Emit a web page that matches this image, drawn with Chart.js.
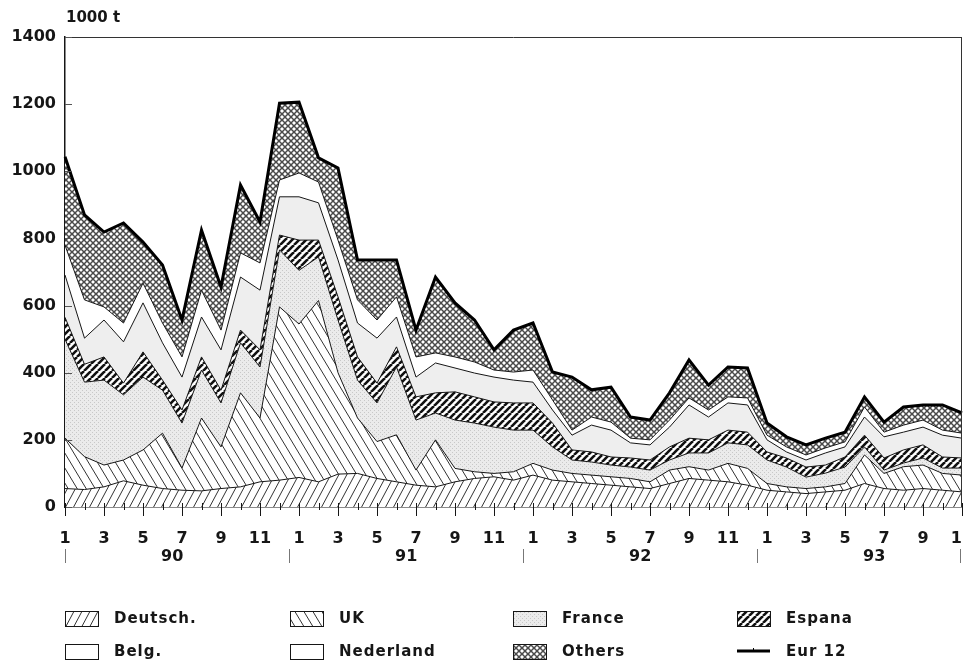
<!DOCTYPE html>
<html>
<head>
<meta charset="utf-8">
<script src="https://cdn.jsdelivr.net/npm/chart.js@4/dist/chart.umd.min.js"></script>
<style>
  html, body { margin: 0; padding: 0; background: #fff; }
  canvas { display: block; }
</style>
</head>
<body>
<canvas id="chart" width="963" height="669"></canvas>
<script>
// months Jan 1990 .. Nov 1993
const monthLabels = ['1','2','3','4','5','6','7','8','9','10','11','12',
                     '1','2','3','4','5','6','7','8','9','10','11','12',
                     '1','2','3','4','5','6','7','8','9','10','11','12',
                     '1','2','3','4','5','6','7','8','9','10','11'];
const yearLabels = ['90', '91', '92', '93'];
const yTicks = [0, 200, 400, 600, 800, 1000, 1200, 1400];

// 1000 t per month
const deutsch   = [55,52,60,78,65,55,50,48,55,60,75,80,88,75,98,100,85,75,65,60,75,85,90,80,95,80,75,70,65,60,55,70,85,80,75,65,50,45,40,45,50,70,55,50,55,50,45];
const uk        = [150,98,65,62,105,165,66,217,124,280,190,516,457,540,302,165,110,140,45,140,40,20,10,25,35,30,25,25,25,25,20,40,35,30,55,50,20,15,15,15,20,85,45,70,70,50,50];
const france    = [295,222,253,194,217,128,134,143,131,149,152,170,160,130,157,113,115,202,149,80,144,145,138,124,99,69,40,39,35,34,35,30,41,51,61,70,70,59,34,41,49,24,10,11,21,16,21];
const espana    = [65,53,69,35,75,30,39,39,38,38,51,44,90,50,69,69,59,60,69,60,84,78,75,81,81,71,30,30,24,27,30,39,44,39,38,38,24,27,30,24,30,35,36,39,39,33,30];
const belg      = [126,78,110,123,146,111,98,119,120,158,178,114,129,111,110,101,134,89,59,89,71,71,74,68,62,39,44,80,80,45,45,59,99,68,81,81,36,18,21,36,30,54,63,53,53,65,59];
const nederland = [89,114,39,56,59,59,60,80,59,72,81,50,71,62,59,69,54,60,60,30,33,33,21,24,36,30,15,24,24,14,15,21,21,21,18,21,14,15,15,15,15,30,14,21,21,15,15];
const others    = [263,253,223,298,122,173,110,179,128,202,122,229,211,72,215,119,179,110,80,226,161,125,60,125,140,83,158,81,104,63,59,81,113,74,89,89,36,30,30,29,29,30,30,54,45,75,60];
const eur12     = [1043,870,819,846,789,721,557,825,655,959,849,1203,1206,1040,1010,736,736,736,527,685,608,557,468,527,548,402,387,349,357,268,259,340,438,363,417,414,250,209,185,205,223,328,253,298,304,304,280];

const canvas = document.getElementById('chart');
const mainCtx = canvas.getContext('2d');
const FONT = 'DejaVu Sans';
const INK = '#161616';

// small tiles used as fill patterns
function makePattern(w, h, bg, draw) {
    const c = document.createElement('canvas');
    c.width = w; c.height = h;
    const g = c.getContext('2d');
    g.fillStyle = bg;
    g.fillRect(0, 0, w, h);
    if (draw) draw(g, w, h);
    return mainCtx.createPattern(c, 'repeat');
}
function hatch(g, w, h, lw, color, dir) {
    g.strokeStyle = color;
    g.lineWidth = lw;
    for (const dx of [-w, 0, w]) {
        g.beginPath();
        if (dir > 0) { g.moveTo(dx, h); g.lineTo(dx + w, 0); }
        else { g.moveTo(dx, 0); g.lineTo(dx + w, h); }
        g.stroke();
    }
}

const patDeutsch = makePattern(8, 15, '#ffffff', (g, w, h) => hatch(g, w, h, 1, '#333', 1));
const patUK = makePattern(9, 15, '#ffffff', (g, w, h) => hatch(g, w, h, 1, '#333', -1));
const patFrance = makePattern(4, 4, '#ebebeb', (g) => {
    g.fillStyle = '#c8c8c8';
    g.fillRect(0, 0, 1, 1);
    g.fillRect(2, 2, 1, 1);
});
const patEspana = makePattern(7, 7, '#ffffff', (g, w, h) => hatch(g, w, h, 2.6, '#111', 1));
const patOthers = makePattern(6, 6, '#ffffff', (g, w, h) => {
    hatch(g, w, h, 1.5, '#4a4a4a', 1);
    hatch(g, w, h, 1.5, '#4a4a4a', -1);
});

const areas = [
    { label: 'Deutsch.', data: deutsch, bg: patDeutsch },
    { label: 'UK', data: uk, bg: patUK },
    { label: 'France', data: france, bg: patFrance },
    { label: 'Espana', data: espana, bg: patEspana },
    { label: 'Belg.', data: belg, bg: '#eeeeee' },
    { label: 'Nederland', data: nederland, bg: '#ffffff' },
    { label: 'Others', data: others, bg: patOthers }
];

const datasets = areas.map((a, i) => ({
    label: a.label,
    data: a.data,
    backgroundColor: a.bg,
    borderColor: INK,
    borderWidth: 1,
    fill: i === 0 ? 'origin' : '-1',
    pointRadius: 0,
    tension: 0,
    stack: 'countries'
}));
datasets.push({
    label: 'Eur 12',
    data: eur12,
    borderColor: '#000',
    borderWidth: 3,
    fill: false,
    pointRadius: 0,
    tension: 0,
    stack: 'total',
    order: -1
});

// legend layout: 4 columns x 2 rows, as in the picture
const legendCells = [
    { label: 'Deutsch.', x: 65, row: 0, fill: patDeutsch },
    { label: 'Belg.', x: 65, row: 1, fill: '#ffffff' },
    { label: 'UK', x: 290, row: 0, fill: patUK },
    { label: 'Nederland', x: 290, row: 1, fill: '#ffffff' },
    { label: 'France', x: 513, row: 0, fill: patFrance },
    { label: 'Others', x: 513, row: 1, fill: patOthers },
    { label: 'Espana', x: 737, row: 0, fill: patEspana },
    { label: 'Eur 12', x: 737, row: 1, line: true }
];

const decor = {
    id: 'decor',
    beforeDraw(chart) {
        const ctx = chart.ctx;
        ctx.save();
        ctx.fillStyle = '#ffffff';
        ctx.fillRect(0, 0, chart.width, chart.height);
        ctx.restore();
    },
    afterDraw(chart) {
        const ctx = chart.ctx;
        const area = chart.chartArea;
        const xs = chart.scales.x;
        const ys = chart.scales.y;
        ctx.save();

        // frame top and right
        ctx.strokeStyle = '#333';
        ctx.lineWidth = 1;
        ctx.beginPath();
        ctx.moveTo(area.left, area.top + 0.5);
        ctx.lineTo(area.right, area.top + 0.5);
        ctx.moveTo(area.right - 0.5, area.top);
        ctx.lineTo(area.right - 0.5, area.bottom);
        ctx.stroke();

        // inner y ticks
        ctx.strokeStyle = '#555';
        yTicks.forEach(v => {
            const y = Math.round(ys.getPixelForValue(v)) + 0.5;
            ctx.beginPath();
            ctx.moveTo(area.left, y);
            ctx.lineTo(area.left + 7, y);
            ctx.stroke();
        });

        // month ticks across the x axis
        ctx.strokeStyle = INK;
        monthLabels.forEach((m, i) => {
            const x = Math.round(xs.getPixelForValue(i)) + 0.5;
            const odd = (+m) % 2 === 1;
            ctx.beginPath();
            ctx.moveTo(x, area.bottom - 4);
            ctx.lineTo(x, area.bottom + (odd ? 9 : 3));
            ctx.stroke();
        });

        ctx.fillStyle = INK;
        ctx.font = 'bold 15px "' + FONT + '"';
        ctx.textBaseline = 'middle';
        ctx.textAlign = 'left';
        ctx.fillText('1000 t', 66, 18);

        // year labels and year separators
        ctx.textAlign = 'center';
        ctx.font = 'bold 16px "' + FONT + '"';
        yearLabels.forEach((yr, k) => {
            ctx.fillText(yr, xs.getPixelForValue(k * 12 + 5.5), 557);
        });
        ctx.strokeStyle = '#777';
        [0, 11.5, 23.5, 35.5, monthLabels.length - 1].forEach(v => {
            const x = Math.min(Math.round(xs.getPixelForValue(v)) + 0.5, chart.width - 2.5);
            ctx.beginPath();
            ctx.moveTo(x, 549);
            ctx.lineTo(x, 563);
            ctx.stroke();
        });

        // legend
        ctx.textAlign = 'left';
        ctx.font = 'bold 15px "' + FONT + '"';
        if ('letterSpacing' in ctx) ctx.letterSpacing = '1px';
        legendCells.forEach(c => {
            const cy = c.row === 0 ? 618 : 651;
            if (c.line) {
                ctx.strokeStyle = '#000';
                ctx.lineWidth = 3;
                ctx.beginPath();
                ctx.moveTo(c.x, cy);
                ctx.lineTo(c.x + 33, cy);
                ctx.stroke();
                ctx.lineWidth = 1;
                ctx.beginPath();
                ctx.moveTo(c.x + 16.5, cy - 3);
                ctx.lineTo(c.x + 16.5, cy);
                ctx.stroke();
            } else {
                ctx.fillStyle = c.fill;
                ctx.fillRect(c.x, cy - 7, 33, 15);
                ctx.strokeStyle = INK;
                ctx.lineWidth = 1;
                ctx.strokeRect(c.x + 0.5, cy - 6.5, 33, 15);
            }
            ctx.fillStyle = INK;
            ctx.fillText(c.label, c.x + 49, cy + 1);
        });
        ctx.restore();
    }
};

new Chart(canvas, {
    type: 'line',
    data: { labels: monthLabels, datasets: datasets },
    options: {
        responsive: false,
        animation: false,
        layout: { padding: { top: 37, right: 1, left: 0, bottom: 0 } },
        plugins: {
            legend: { display: false },
            tooltip: { enabled: false }
        },
        scales: {
            x: {
                grid: { display: false, drawTicks: false },
                border: { display: true, color: INK, width: 1.5 },
                afterFit: function(scale) {
                    scale.height = 162;
                    scale.paddingLeft = 0;
                    scale.paddingRight = 0;
                },
                ticks: {
                    autoSkip: false,
                    maxRotation: 0,
                    minRotation: 0,
                    padding: 22,
                    color: INK,
                    font: { family: FONT, size: 16, weight: 'bold' },
                    callback: function(value, index) {
                        const m = monthLabels[index];
                        return (+m) % 2 === 1 ? m : '';
                    }
                }
            },
            y: {
                stacked: true,
                min: 0,
                max: 1400,
                grid: { display: false, drawTicks: false },
                border: { display: true, color: INK, width: 1.5 },
                afterFit: function(scale) {
                    scale.width = 65;
                },
                ticks: {
                    stepSize: 200,
                    padding: 9,
                    color: INK,
                    font: { family: FONT, size: 16, weight: 'bold' },
                    callback: function(value) {
                        return String(value);
                    }
                }
            }
        }
    },
    plugins: [decor]
});
</script>
</body>
</html>
